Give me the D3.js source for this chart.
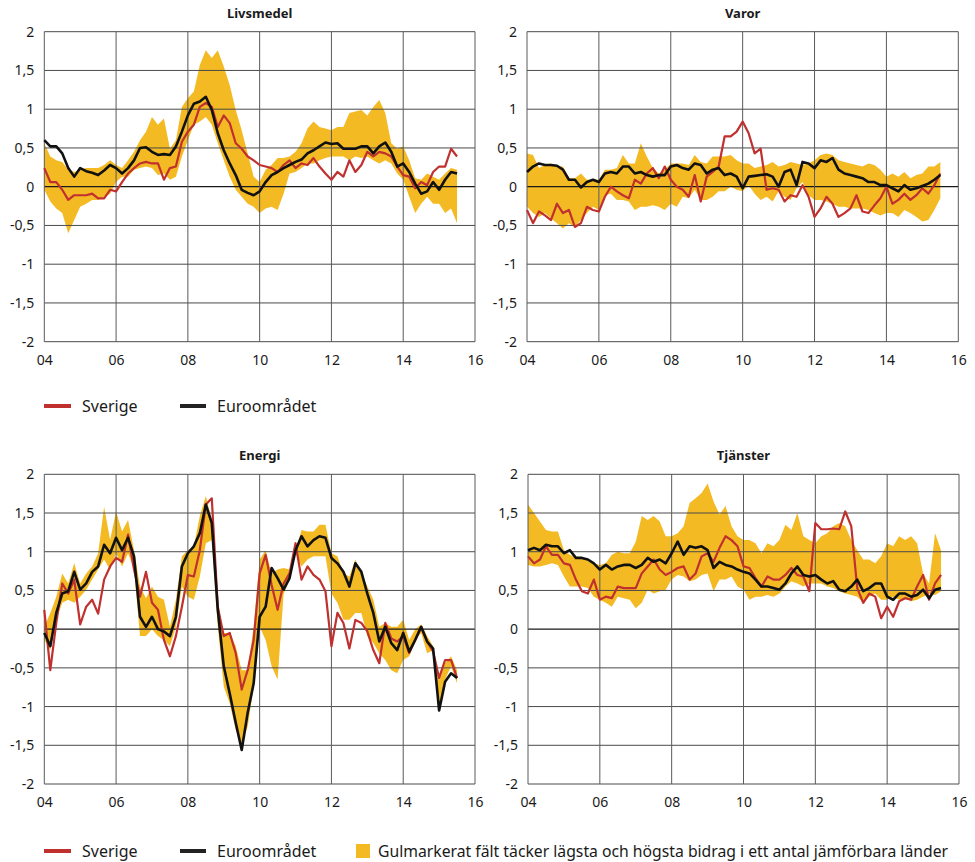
<!DOCTYPE html>
<html>
<head>
<meta charset="utf-8">
<script src="https://cdn.jsdelivr.net/npm/d3@7"></script>
<style>
  body { margin: 0; background: #fff; }
  text { font-family: "Noto Sans", sans-serif; fill: #1a1a1a; }
</style>
</head>
<body>
<svg id="chart" width="975" height="862"></svg>
<script>
// two-month steps, Jan 2004 .. Jul 2015
var dates = d3.range(70).map(function(i) { return 2004 + i / 6; });

var yTicks = [-2, -1.5, -1, -0.5, 0, 0.5, 1, 1.5, 2];
var xTicks = [2004, 2006, 2008, 2010, 2012, 2014, 2016];

var livsSverige = [0.24,0.06,0.06,-0.04,-0.17,-0.11,-0.11,-0.11,-0.09,-0.15,
  -0.15,-0.04,-0.06,0.06,0.17,0.24,0.30,0.32,0.30,0.30,
  0.09,0.24,0.26,0.58,0.71,0.80,1.03,1.08,1.03,0.77,
  0.92,0.82,0.56,0.49,0.39,0.34,0.28,0.26,0.24,0.19,
  0.28,0.34,0.24,0.30,0.28,0.37,0.26,0.17,0.09,0.19,
  0.13,0.34,0.19,0.28,0.45,0.39,0.45,0.43,0.39,0.26,
  0.15,0.13,-0.02,0.06,0.02,0.19,0.26,0.26,0.49,0.39];
var livsEuro = [0.60,0.52,0.52,0.43,0.24,0.13,0.24,0.20,0.18,0.15,
  0.21,0.28,0.24,0.17,0.24,0.34,0.50,0.51,0.45,0.41,
  0.42,0.41,0.52,0.71,0.92,1.07,1.10,1.16,0.99,0.69,
  0.47,0.30,0.15,-0.04,-0.08,-0.11,-0.06,0.06,0.15,0.19,
  0.24,0.28,0.32,0.35,0.43,0.47,0.52,0.57,0.55,0.56,
  0.49,0.49,0.49,0.52,0.52,0.43,0.52,0.57,0.45,0.26,
  0.30,0.19,0.04,-0.09,-0.06,0.06,-0.04,0.09,0.19,0.17];
var livsHigh = [0.56,0.39,0.34,0.32,0.22,0.19,0.22,0.24,0.24,0.24,
  0.28,0.34,0.28,0.24,0.34,0.45,0.60,0.71,0.90,0.80,
  0.88,0.49,0.60,1.03,1.14,1.23,1.57,1.76,1.66,1.76,
  1.55,1.31,0.99,0.73,0.43,0.13,0.06,0.22,0.28,0.37,
  0.37,0.39,0.45,0.56,0.75,0.84,0.77,0.75,0.73,0.77,
  0.77,0.95,0.97,0.99,0.92,1.03,1.12,0.95,0.56,0.49,
  0.52,0.34,0.11,0.09,0.17,0.13,0.09,0.17,0.24,0.22];
var livsLow = [-0.04,-0.19,-0.28,-0.34,-0.60,-0.43,-0.26,-0.22,-0.17,-0.17,
  -0.13,-0.09,0.06,0.13,0.13,0.22,0.24,0.26,0.24,0.15,
  0.17,0.09,0.13,0.39,0.60,0.80,0.84,0.90,0.80,0.56,
  0.34,0.13,-0.04,-0.13,-0.22,-0.26,-0.34,-0.28,-0.26,-0.30,
  -0.09,0.17,0.19,0.24,0.30,0.30,0.34,0.37,0.39,0.39,
  0.39,0.34,0.39,0.37,0.39,0.34,0.30,0.34,0.30,0.17,
  0.09,-0.13,-0.34,-0.22,-0.13,-0.22,-0.22,-0.34,-0.28,-0.47];

var varorSverige = [-0.30,-0.47,-0.32,-0.37,-0.43,-0.22,-0.34,-0.30,-0.52,-0.47,
  -0.26,-0.30,-0.32,-0.13,0.00,-0.06,-0.11,-0.15,0.09,0.04,
  0.17,0.24,0.11,0.26,0.09,0.00,-0.04,-0.13,0.15,-0.19,
  0.13,0.19,0.26,0.65,0.65,0.71,0.84,0.69,0.43,0.49,
  -0.04,-0.02,-0.04,-0.19,-0.11,-0.13,0.02,-0.13,-0.39,-0.28,
  -0.13,-0.22,-0.39,-0.34,-0.28,-0.11,-0.32,-0.34,-0.24,-0.15,
  0.00,-0.22,-0.17,-0.09,-0.17,-0.11,-0.02,-0.09,0.02,0.17];
var varorEuro = [0.19,0.26,0.30,0.28,0.28,0.27,0.22,0.09,0.09,-0.01,
  0.06,0.09,0.06,0.17,0.19,0.17,0.26,0.26,0.17,0.19,
  0.15,0.13,0.15,0.15,0.26,0.28,0.24,0.22,0.30,0.28,
  0.17,0.22,0.24,0.15,0.17,0.13,-0.02,0.13,0.14,0.15,
  0.16,0.13,0.00,0.19,0.22,0.02,0.32,0.30,0.24,0.34,
  0.32,0.37,0.22,0.17,0.15,0.13,0.11,0.06,0.06,0.02,
  0.02,-0.02,-0.06,0.02,-0.04,-0.02,0.01,0.04,0.09,0.15];
var varorHigh = [0.43,0.41,0.24,0.28,0.30,0.26,0.26,0.11,0.11,0.17,
  0.09,0.09,0.09,0.22,0.22,0.24,0.41,0.30,0.30,0.56,
  0.39,0.24,0.17,0.22,0.30,0.30,0.30,0.28,0.41,0.32,
  0.30,0.39,0.39,0.39,0.41,0.34,0.30,0.30,0.24,0.26,
  0.28,0.32,0.26,0.28,0.32,0.30,0.28,0.30,0.34,0.41,
  0.43,0.41,0.34,0.32,0.30,0.28,0.26,0.30,0.28,0.22,
  0.13,0.17,0.13,0.19,0.11,0.15,0.17,0.26,0.26,0.32];
var varorLow = [-0.26,-0.34,-0.39,-0.34,-0.41,-0.47,-0.54,-0.47,-0.52,-0.43,
  -0.34,-0.26,-0.30,-0.11,-0.09,-0.17,-0.17,-0.19,-0.30,-0.26,
  -0.26,-0.24,-0.26,-0.30,-0.22,-0.26,-0.13,-0.15,-0.04,-0.17,
  -0.17,-0.13,-0.06,-0.06,0.00,-0.04,-0.06,0.02,-0.09,-0.17,
  -0.13,-0.19,-0.06,-0.13,-0.17,-0.02,0.06,-0.11,-0.17,-0.17,
  -0.19,-0.22,-0.26,-0.26,-0.28,-0.28,-0.28,-0.30,-0.34,-0.37,
  -0.34,-0.34,-0.39,-0.30,-0.34,-0.39,-0.45,-0.43,-0.30,-0.15];

var energiSverige = [0.25,-0.53,0.08,0.59,0.46,0.64,0.06,0.29,0.38,0.20,
  0.64,0.81,0.92,0.87,1.22,0.77,0.42,0.74,0.34,0.25,
  -0.14,-0.35,-0.09,0.29,0.70,0.68,1.02,1.61,1.69,0.29,
  -0.09,-0.05,-0.31,-0.78,-0.53,-0.14,0.72,0.96,0.57,0.25,
  0.59,0.72,1.11,0.64,0.81,0.70,0.64,0.49,-0.22,0.21,
  0.08,-0.25,0.12,0.08,-0.03,-0.27,-0.44,0.08,-0.12,-0.16,
  -0.09,-0.31,-0.14,0.03,-0.16,-0.29,-0.63,-0.40,-0.40,-0.63];
var energiEuro = [-0.05,-0.22,0.21,0.46,0.49,0.74,0.51,0.59,0.74,0.81,
  1.09,0.98,1.18,1.02,1.18,0.94,0.16,0.03,0.16,0.00,
  -0.03,-0.09,0.16,0.81,0.98,1.07,1.24,1.61,1.37,0.25,
  -0.48,-0.83,-1.21,-1.56,-1.08,-0.70,0.16,0.29,0.79,0.66,
  0.51,0.66,1.02,1.20,1.07,1.15,1.20,1.18,0.92,0.85,
  0.74,0.55,0.85,0.74,0.46,0.21,-0.16,0.03,-0.18,-0.27,
  -0.05,-0.29,-0.14,0.03,-0.16,-0.25,-1.05,-0.68,-0.57,-0.63];
var energiHigh = [0.03,0.21,0.42,0.72,0.59,0.85,0.59,0.72,0.81,0.98,
  1.58,1.15,1.52,1.26,1.41,1.02,0.55,0.40,0.55,0.42,
  0.38,0.03,0.38,0.94,1.02,1.07,1.46,1.72,1.41,0.29,
  -0.05,-0.05,-0.22,-0.53,-0.53,0.03,0.90,1.02,0.72,0.77,
  0.79,0.77,1.02,1.28,1.26,1.26,1.35,1.35,0.98,0.94,
  0.72,0.68,0.90,0.72,0.55,0.38,0.03,0.08,0.03,0.03,
  0.12,-0.14,0.00,0.06,-0.09,-0.22,-0.65,-0.44,-0.35,-0.53];
var energiLow = [-0.14,-0.27,0.12,0.34,0.38,0.34,0.42,0.51,0.64,0.77,
  0.90,0.77,0.98,0.81,0.98,0.77,-0.09,-0.09,0.00,-0.09,
  -0.14,-0.22,0.03,0.55,0.42,0.38,0.68,1.11,1.15,0.03,
  -0.74,-0.96,-1.30,-1.47,-1.26,-0.74,0.03,-0.14,-0.48,-0.65,
  0.45,0.64,0.98,0.81,0.90,0.94,0.94,0.94,0.46,0.34,
  0.12,0.12,0.21,0.21,-0.09,-0.18,-0.31,-0.40,-0.53,-0.57,
  -0.40,-0.35,-0.14,-0.05,-0.31,-0.27,-1.00,-0.65,-0.48,-0.70];

var tjanSverige = [0.94,0.85,0.90,1.07,0.96,0.96,0.85,0.83,0.64,0.49,
  0.46,0.64,0.38,0.42,0.40,0.55,0.53,0.53,0.53,0.72,
  0.81,0.90,0.77,0.70,0.74,0.79,0.81,0.64,0.72,0.94,
  0.98,0.87,1.05,1.20,1.15,1.07,0.81,0.79,0.66,0.55,
  0.68,0.64,0.64,0.70,0.79,0.70,0.68,0.49,1.37,1.29,
  1.29,1.30,1.29,1.52,1.33,0.53,0.34,0.46,0.42,0.14,
  0.29,0.16,0.36,0.40,0.38,0.55,0.70,0.38,0.59,0.70];
var tjanEuro = [1.02,1.05,1.02,1.09,1.07,1.07,0.98,1.02,0.92,0.92,
  0.90,0.85,0.77,0.83,0.77,0.81,0.83,0.83,0.79,0.83,
  0.92,0.87,0.90,0.85,0.98,1.13,0.96,1.07,1.05,1.07,
  1.02,0.79,0.87,0.83,0.81,0.77,0.74,0.72,0.64,0.55,
  0.55,0.53,0.51,0.59,0.72,0.81,0.70,0.68,0.70,0.64,
  0.59,0.62,0.51,0.49,0.55,0.64,0.49,0.53,0.59,0.59,
  0.42,0.38,0.46,0.46,0.42,0.44,0.51,0.40,0.51,0.53];
var tjanHigh = [1.61,1.50,1.39,1.28,1.26,1.26,1.02,0.96,0.92,0.92,
  0.90,0.85,0.83,0.85,0.96,1.00,0.98,0.98,1.13,1.46,
  1.41,1.46,1.39,1.20,1.20,1.24,1.33,1.63,1.69,1.76,
  1.88,1.65,1.48,1.59,1.33,1.20,1.15,1.15,1.11,0.98,
  1.11,1.07,1.15,1.35,1.28,1.50,1.20,1.15,1.11,1.20,
  1.24,1.33,1.37,1.33,1.15,1.02,0.90,0.90,0.85,0.94,
  1.11,1.07,1.20,1.15,1.20,1.11,0.72,0.59,1.24,1.02];
var tjanLow = [0.83,0.81,0.81,0.83,0.85,0.83,0.68,0.55,0.55,0.55,
  0.53,0.42,0.38,0.34,0.29,0.42,0.40,0.38,0.27,0.34,
  0.51,0.46,0.49,0.51,0.64,0.70,0.68,0.62,0.64,0.70,
  0.72,0.49,0.64,0.64,0.68,0.55,0.51,0.38,0.42,0.42,
  0.44,0.42,0.46,0.55,0.62,0.59,0.55,0.59,0.59,0.59,
  0.55,0.53,0.49,0.46,0.44,0.42,0.34,0.42,0.46,0.38,
  0.38,0.42,0.38,0.40,0.36,0.38,0.42,0.46,0.44,0.49];

var titles = ["Livsmedel", "Varor", "Energi", "Tjänster"];
var legendLabels = ["Sverige", "Euroområdet",
  "Gulmarkerat fält täcker lägsta och högsta bidrag i ett antal jämförbara länder"];

var colSverige = "#c0302e";
var colEuro = "#111111";
var colBand = "#f4ba24";

var panels = [
  { title: titles[0], sv: livsSverige, eu: livsEuro, hi: livsHigh, lo: livsLow,
    x0: 44.3, x1: 475, y0: 31.7, y1: 341.7 },
  { title: titles[1], sv: varorSverige, eu: varorEuro, hi: varorHigh, lo: varorLow,
    x0: 527, x1: 958.3, y0: 31.7, y1: 341.7 },
  { title: titles[2], sv: energiSverige, eu: energiEuro, hi: energiHigh, lo: energiLow,
    x0: 44.3, x1: 475, y0: 474.3, y1: 784 },
  { title: titles[3], sv: tjanSverige, eu: tjanEuro, hi: tjanHigh, lo: tjanLow,
    x0: 528, x1: 959, y0: 474.3, y1: 784 }
];

var svLocale = d3.formatLocale({ decimal: ",", thousands: " ", grouping: [3], currency: ["", " kr"], minus: "-" });
var fmtY = svLocale.format("");

var svg = d3.select("#chart");

panels.forEach(function(p) {
  var x = d3.scaleLinear().domain([2004, 2016]).range([p.x0, p.x1]);
  var y = d3.scaleLinear().domain([-2, 2]).range([p.y1, p.y0]);
  var g = svg.append("g");

  // band
  var area = d3.area()
    .x(function(d, i) { return x(dates[i]); })
    .y0(function(d, i) { return y(p.lo[i]); })
    .y1(function(d, i) { return y(p.hi[i]); });
  g.append("path").datum(p.hi).attr("d", area).attr("fill", colBand);

  // grid
  g.selectAll(".hgrid").data(yTicks).enter().append("line")
    .attr("x1", p.x0).attr("x2", p.x1)
    .attr("y1", function(d) { return y(d); }).attr("y2", function(d) { return y(d); })
    .attr("stroke", function(d) { return d === 0 ? "#1a1a1a" : "#4a4a4a"; })
    .attr("stroke-width", function(d) { return d === 0 ? 1.3 : 1; });
  g.selectAll(".vgrid").data(xTicks).enter().append("line")
    .attr("y1", p.y0).attr("y2", p.y1)
    .attr("x1", function(d) { return x(d); }).attr("x2", function(d) { return x(d); })
    .attr("stroke", "#5a5a5a").attr("stroke-width", 1);

  // axes (labels only)
  var ay = g.append("g").attr("transform", "translate(" + p.x0 + ",0)")
    .call(d3.axisLeft(y).tickValues(yTicks).tickFormat(fmtY).tickSize(0).tickPadding(10));
  var ax = g.append("g").attr("transform", "translate(0," + p.y1 + ")")
    .call(d3.axisBottom(x).tickValues(xTicks)
      .tickFormat(function(d) { return d3.format("02d")(d % 100); })
      .tickSize(0).tickPadding(13));
  [ay, ax].forEach(function(a) {
    a.select(".domain").remove();
    a.selectAll("text").attr("font-size", 14).attr("fill", "#1a1a1a")
      .style("font-family", "'Noto Sans', sans-serif");
  });

  // lines
  var line = function(vals) {
    return d3.line()
      .x(function(d, i) { return x(dates[i]); })
      .y(function(d) { return y(d); })(vals);
  };
  g.append("path").attr("d", line(p.sv)).attr("fill", "none")
    .attr("stroke", colSverige).attr("stroke-width", 2.2).attr("stroke-linejoin", "round");
  g.append("path").attr("d", line(p.eu)).attr("fill", "none")
    .attr("stroke", colEuro).attr("stroke-width", 2.6).attr("stroke-linejoin", "round");

  g.append("text").attr("x", (p.x0 + p.x1) / 2).attr("y", p.y0 - 14)
    .attr("text-anchor", "middle").attr("font-size", 13).attr("font-weight", "bold")
    .text(p.title);
});

// legends
function drawLegend(ly, withBand) {
  var lg = svg.append("g");
  lg.append("line").attr("x1", 44).attr("x2", 71).attr("y1", ly).attr("y2", ly)
    .attr("stroke", colSverige).attr("stroke-width", 4);
  lg.append("text").attr("x", 82).attr("y", ly).attr("dy", "0.35em")
    .attr("font-size", 16).text(legendLabels[0]);
  lg.append("line").attr("x1", 180).attr("x2", 206).attr("y1", ly).attr("y2", ly)
    .attr("stroke", "#222").attr("stroke-width", 4);
  lg.append("text").attr("x", 217).attr("y", ly).attr("dy", "0.35em")
    .attr("font-size", 16).text(legendLabels[1]);
  if (withBand) {
    lg.append("rect").attr("x", 356).attr("y", ly - 7).attr("width", 14).attr("height", 14)
      .attr("fill", colBand);
    lg.append("text").attr("x", 378).attr("y", ly).attr("dy", "0.35em")
      .attr("font-size", 16).attr("textLength", 570).attr("lengthAdjust", "spacingAndGlyphs")
      .text(legendLabels[2]);
  }
}
drawLegend(406, false);
drawLegend(851, true);
</script>
</body>
</html>
